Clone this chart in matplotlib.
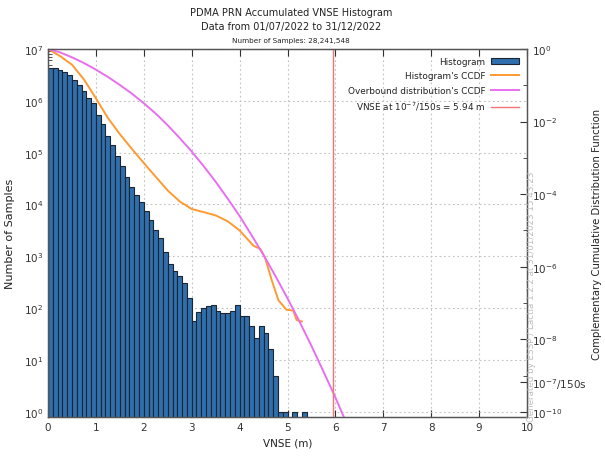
import numpy as np
import matplotlib
matplotlib.use("Agg")
import matplotlib.pyplot as plt
from matplotlib.ticker import FixedLocator, NullFormatter, LogLocator

# histogram (0.1 m bins)
bin_left = [round(0.1 * i, 1) for i in range(54)]
counts = [4.37e6, 4.37e6, 3.98e6, 3.63e6, 3.09e6, 2.57e6, 2.04e6, 1.58e6, 1.15e6, 8.9e5,
          5.4e5, 3.5e5, 2.1e5, 1.38e5, 8.5e4, 5.5e4, 3.4e4, 2.2e4, 1.55e4, 1.12e4,
          7400, 5000, 3160, 2240, 1200, 720, 525, 417, 309, 158,
          56, 85, 100, 110, 117, 87, 79, 81, 89, 117,
          71, 71, 45, 26, 46, 33, 16, 5, 1, 1,
          0, 1, 0, 1]

# histogram's CCDF
ccdf_x = [0, 0.25, 0.5, 0.75, 1.0, 1.25, 1.5, 1.75, 2.0, 2.25, 2.5, 2.75, 3.0,
          3.25, 3.5, 3.75, 4.0, 4.29, 4.43, 4.53, 4.67, 4.81, 4.98, 5.12, 5.19, 5.30]
ccdf_y = [1.0, 0.64, 0.37, 0.145, 0.0437, 0.0126, 4.5e-3, 1.78e-3, 7.2e-4, 3.0e-4,
          1.26e-4, 6.3e-5, 3.9e-5, 3.2e-5, 2.6e-5, 1.8e-5, 1.0e-5, 3.8e-6, 3.1e-6,
          1.8e-6, 4.3e-7, 1.2e-7, 6.5e-8, 6.2e-8, 3.4e-8, 3.1e-8]

# overbound distribution's CCDF
ob_x = [0, 0.25, 0.5, 0.75, 1.0, 1.25, 1.5, 1.75, 2.0, 2.25, 2.5, 2.75, 3.0,
        3.25, 3.5, 3.75, 4.0, 4.25, 4.5, 4.75, 5.0, 5.25, 5.5, 5.75, 6.0, 6.25]
ob_y = [1.0, 0.81, 0.59, 0.41, 0.27, 0.17, 0.102, 0.059, 0.032, 0.0166, 7.9e-3,
        3.5e-3, 1.5e-3, 5.9e-4, 2.2e-4, 7.6e-5, 2.5e-5, 7.4e-6, 2.1e-6, 5.5e-7,
        1.35e-7, 3.1e-8, 6.6e-9, 1.3e-9, 2.5e-10, 4.3e-11]

vnse_limit = 5.94
n_samples = "28,241,548"

plt.rcParams['font.family'] = ['DejaVu Sans']

fig = plt.figure(figsize=(6.05, 4.6), dpi=100)
ax = fig.add_axes([48 / 605, 1 - 418 / 460, 479 / 605, 368 / 460])
ax2 = ax.twinx()

bx = [b for b, c in zip(bin_left, counts) if c > 0]
bc = [c for c in counts if c > 0]
ax.bar(bx, bc, width=0.1, align='edge', color='#2f6fad', edgecolor='#1c2530',
       linewidth=0.8, zorder=2)
ax.set_yscale('log')
ax.set_xlim(0, 10)
ax.set_ylim(10 ** -0.1, 1e7)
ax.set_xticks(range(11))
ax.yaxis.set_major_locator(FixedLocator([10.0 ** k for k in range(8)]))
ax.yaxis.set_minor_locator(LogLocator(base=10, subs=np.arange(2, 10), numticks=20))
ax.yaxis.set_minor_formatter(NullFormatter())
ax.set_axisbelow(True)
ax.grid(which='major', ls=(0, (1.5, 2.5)), color='#c0c0c0', lw=0.8)
ax.tick_params(which='both', direction='in', top=True, labelsize=7.5, colors='#333333')
ax.tick_params(which='major', length=5)
ax.tick_params(which='minor', length=3)
ax.set_xlabel('VNSE (m)', fontsize=7.5, color='#222222', labelpad=4)
ax.set_ylabel('Number of Samples', fontsize=8, color='#222222', labelpad=6)

h1, = ax2.plot(ccdf_x, ccdf_y, color='#ff9a33', lw=1.4)
h2, = ax2.plot(ob_x, ob_y, color='#e86ff0', lw=1.4)
h3 = ax2.axvline(vnse_limit, color='#f27474', lw=1.0)
ax2.set_yscale('log')
ax2.set_ylim(10 ** -10.14, 1)
rticks = [1, 1e-2, 1e-4, 1e-6, 1e-8, 1e-7 / 150, 1e-10]
rlabels = ['10$^{0}$', '10$^{-2}$', '10$^{-4}$', '10$^{-6}$', '10$^{-8}$',
           '10$^{-7}$/150s', '10$^{-10}$']
ax2.yaxis.set_major_locator(FixedLocator(rticks))
ax2.set_yticklabels(rlabels)
ax2.yaxis.set_minor_locator(FixedLocator([10.0 ** -k for k in (1, 3, 5, 7, 9)]))
ax2.yaxis.set_minor_formatter(NullFormatter())
ax2.tick_params(which='both', direction='in', labelsize=7.5, colors='#333333')
ax2.tick_params(which='major', length=5)
ax2.tick_params(which='minor', length=3)
ax2.set_ylabel('Complementary Cumulative Distribution Function', fontsize=7.3,
               color='#222222')
ax2.yaxis.set_label_coords((592 - 48) / 479, 0.5)
ax2.set_xlim(0, 10)

for a in (ax, ax2):
    for s in a.spines.values():
        s.set_color('#555555')
        s.set_linewidth(0.9)

hbar = plt.Rectangle((0, 0), 1, 1, facecolor='#2f6fad', edgecolor='#1c2530', lw=0.8)
leg = ax2.legend([hbar, h1, h2, h3],
                 ['Histogram', "Histogram's CCDF", "Overbound distribution's CCDF",
                  'VNSE at 10$^{-7}$/150s = 5.94 m'],
                 loc='upper right', frameon=False, markerfirst=False, fontsize=6.4,
                 handlelength=3.2, handleheight=0.7, labelspacing=0.6,
                 borderaxespad=0.5, handletextpad=0.6, alignment='right')
for t in leg.get_texts():
    t.set_color('#222222')

fig.text(291 / 605, 1 - 13 / 460, 'PDMA PRN Accumulated VNSE Histogram',
         ha='center', va='center', fontsize=7, color='#222222')
fig.text(291 / 605, 1 - 27 / 460, 'Data from 01/07/2022 to 31/12/2022',
         ha='center', va='center', fontsize=7, color='#222222')
fig.text(291 / 605, 1 - 41 / 460, 'Number of Samples: ' + n_samples,
         ha='center', va='center', fontsize=5.2, color='#222222')
fig.text(531 / 605, 1 - 297 / 460,
         'Generated by ESSP / Lactia 1.2.2 at 31/01/2023 15:43:23',
         rotation=90, ha='center', va='center', fontsize=6.3, color='#bdbdbd')

fig.savefig('out.png', dpi=100)
